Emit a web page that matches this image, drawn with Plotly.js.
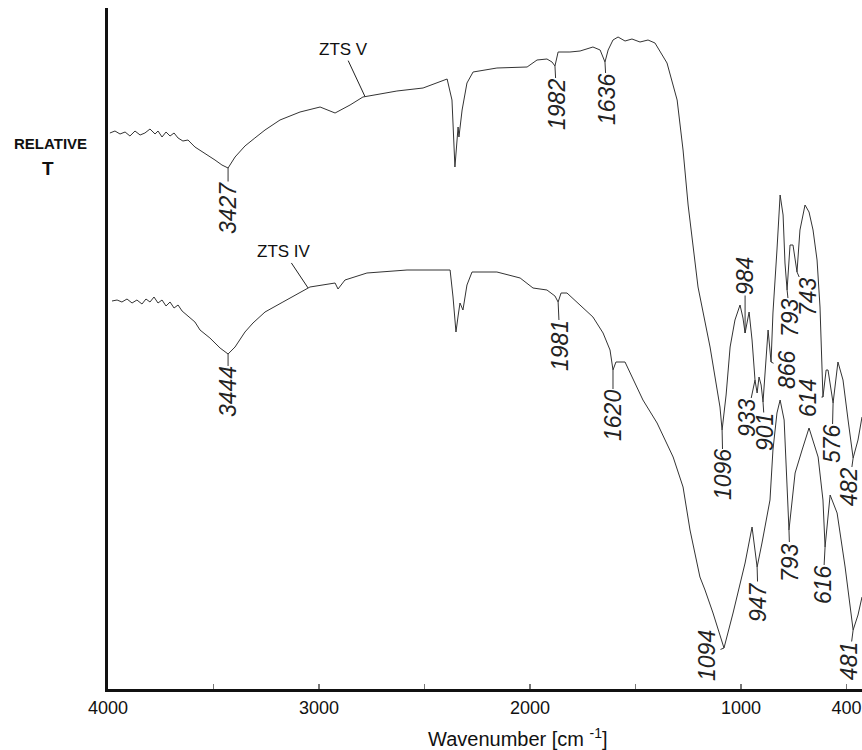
<!DOCTYPE html>
<html>
<head>
<meta charset="utf-8">
<script src="https://cdn.plot.ly/plotly-3.0.1.min.js"></script>
<style>html,body{margin:0;padding:0;background:#fff;}#chart{width:862px;height:750px;}</style>
</head>
<body>
<div id="chart"></div>
<script>
// ZTS V spectrum (wavenumber, relative transmittance, arbitrary units)
const wnV = [3991,3967,3943,3919,3896,3872,3848,3825,3801,3777,3763,3744,3725,3706,3687,3668,3645,3621,3588,3541,3493,3460,3431,3398,3351,3304,3256,3185,3090,2995,2924,2853,2792,2711,2631,2507,2427,2393,2370,2356,2341,2337,2322,2299,2270,2157,2014,1967,1920,1896,1882,1867,1811,1763,1702,1668,1645,1630,1607,1583,1550,1517,1479,1441,1408,1351,1303,1275,1251,1228,1204,1147,1100,1090,1071,1052,1029,1005,991,981,962,948,934,924,915,905,896,882,872,858,849,830,815,801,792,782,768,754,735,721,697,678,659,640,626,612,597,588,564,541,517,493,469,446,427];
const tV = [556,558,555,557,553,558,554,556,560,555,558,552,557,553,556,551,548,549,542,536,529,524,521,532,543,551,559,569,577,582,576,584,592,595,598,601,607,610,589,522,562,552,579,606,617,621,622,629,630,627,623,637,637,638,642,639,627,639,649,652,648,650,647,649,646,626,589,539,484,442,402,342,282,259,294,342,369,384,371,356,377,349,309,296,312,304,287,329,359,327,376,439,494,474,426,399,444,444,417,459,484,477,459,429,382,292,319,319,286,327,309,269,231,249,272];

// ZTS IV spectrum
const wnIV = [3981,3957,3934,3910,3886,3863,3839,3820,3801,3782,3763,3744,3725,3706,3687,3668,3649,3621,3588,3564,3517,3469,3431,3398,3351,3313,3256,3171,3090,3043,2924,2910,2877,2773,2583,2379,2365,2351,2341,2332,2318,2299,2275,2157,2047,1986,1920,1882,1867,1853,1825,1763,1702,1654,1621,1607,1593,1550,1493,1465,1398,1322,1275,1242,1195,1171,1133,1081,1038,981,948,924,901,863,849,830,815,796,773,744,711,678,635,612,602,578,545,507,469,446,427];
const tIV = [388,389,387,390,386,389,385,390,387,392,386,389,383,387,381,384,378,373,367,359,351,341,335,342,357,366,377,387,397,402,406,400,409,416,419,419,392,357,373,386,379,404,417,417,411,401,399,393,387,396,396,384,372,356,339,319,327,327,302,289,266,232,202,159,112,99,76,41,76,126,162,122,146,189,239,276,289,269,159,216,239,261,232,189,142,194,176,122,59,74,92];

// Peak labels and where they point on each curve
const peakTextV = ['3427','1982','1636','1096','984','933','901','866','793','743','614','576','482'];
const peakAtV   = [3431,1882,1645,1090,981,934,896,858,782,735,612,564,469];
const peakTextIV = ['3444','1981','1620','1094','947','793','616','481'];
const peakAtIV   = [3431,1867,1607,1081,924,773,602,469];

// Axis ticks
const tickVals = [4000,3000,2000,1000,500];
const tickText = ['4000','3000','2000','1000','400'];
const minorTickVals = [3500,2500,1500];

// --- styling (label offsets in pixels) ---
const offV = [[0,40],[2,38],[2,37],[1,45],[0,-57],[-8,38],[2,30],[16,8],[3,28],[11,25],[-15,1],[-1,41],[-4,29]];
const offIV = [[0,38],[2,44],[0,45],[-17,7],[1,35],[1,32],[-2,38],[-4,31]];

function interp(xs, ys, x){
  for (let i=0;i<xs.length-1;i++){
    const a=xs[i], b=xs[i+1];
    if ((x<=a && x>=b) || (x>=a && x<=b)){
      const t = (x-a)/(b-a || 1);
      return ys[i] + t*(ys[i+1]-ys[i]);
    }
  }
  return ys[ys.length-1];
}

const lineStyle = {color:'#333', width:1};
const traces = [
  {x: wnV, y: tV, type:'scatter', mode:'lines', line: lineStyle, name:'ZTS V', hoverinfo:'skip'},
  {x: wnIV, y: tIV, type:'scatter', mode:'lines', line: lineStyle, name:'ZTS IV', hoverinfo:'skip'}
];

const FAM = 'Liberation Sans, Arial, sans-serif';
const peakFont = {family:FAM, size:23, color:'#222', style:'italic'};
const annotations = [];
function addPeaks(texts, ats, offs, xs, ys){
  texts.forEach((t,i)=>{
    annotations.push({
      x: ats[i], y: interp(xs, ys, ats[i]), xref:'x', yref:'y',
      text: t, textangle: -90, font: peakFont,
      showarrow: true, arrowhead: 0, arrowwidth: 1, arrowcolor:'#333',
      ax: offs[i][0], ay: offs[i][1], standoff: 0, startstandoff: 0, borderpad: 0
    });
  });
}
addPeaks(peakTextV, peakAtV, offV, wnV, tV);
addPeaks(peakTextIV, peakAtIV, offIV, wnIV, tIV);

const seriesFont = {family:FAM, size:17, color:'#111'};
annotations.push({x:2782, y:interp(wnV,tV,2782), xref:'x', yref:'y', text:'ZTS V', font:seriesFont,
  showarrow:true, arrowhead:0, arrowwidth:1, arrowcolor:'#222', ax:-22, ay:-47, standoff:0});
annotations.push({x:3052, y:interp(wnIV,tIV,3052), xref:'x', yref:'y', text:'ZTS IV', font:seriesFont,
  showarrow:true, arrowhead:0, arrowwidth:1, arrowcolor:'#222', ax:-24, ay:-36, standoff:0});

// y axis label and x axis title
const L = 108, W = 754, T = 8, H = 681;
annotations.push({xref:'paper', yref:'paper', x:(50-L)/W, y:(689-143)/H, text:'<b>RELATIVE</b>',
  showarrow:false, font:{family:FAM, size:15, color:'#111'}, xanchor:'center', yanchor:'middle'});
annotations.push({xref:'paper', yref:'paper', x:(48-L)/W, y:(689-168)/H, text:'<b>T</b>',
  showarrow:false, font:{family:FAM, size:19, color:'#111'}, xanchor:'center', yanchor:'middle'});
annotations.push({xref:'paper', yref:'paper', x:(518-L)/W, y:(689-737)/H, text:'Wavenumber [cm <sup>-1</sup>]',
  showarrow:false, font:{family:FAM, size:20, color:'#111'}, xanchor:'center', yanchor:'middle'});

const layout = {
  width: 862, height: 750,
  margin: {l: L, r: 0, t: T, b: 750-T-H},
  paper_bgcolor:'#fff', plot_bgcolor:'#fff',
  showlegend: false,
  xaxis: {
    range: [4000, 427], showgrid:false, zeroline:false,
    showline:true, linecolor:'#111', linewidth:3,
    tickmode:'array', tickvals: tickVals, ticktext: tickText,
    ticks:'inside', ticklen:5, tickwidth:1.5, tickcolor:'#777',
    minor: {tickmode:'array', tickvals: minorTickVals, ticks:'inside', ticklen:5, tickwidth:1.5, tickcolor:'#777', showgrid:false},
    tickfont:{family:FAM, size:18, color:'#111'}
  },
  yaxis: {
    range: [0, 681], showgrid:false, zeroline:false,
    showline:true, linecolor:'#111', linewidth:3,
    showticklabels:false, ticks:''
  },
  annotations: annotations
};

Plotly.newPlot('chart', traces, layout, {displayModeBar:false, staticPlot:true});
</script>
</body>
</html>
